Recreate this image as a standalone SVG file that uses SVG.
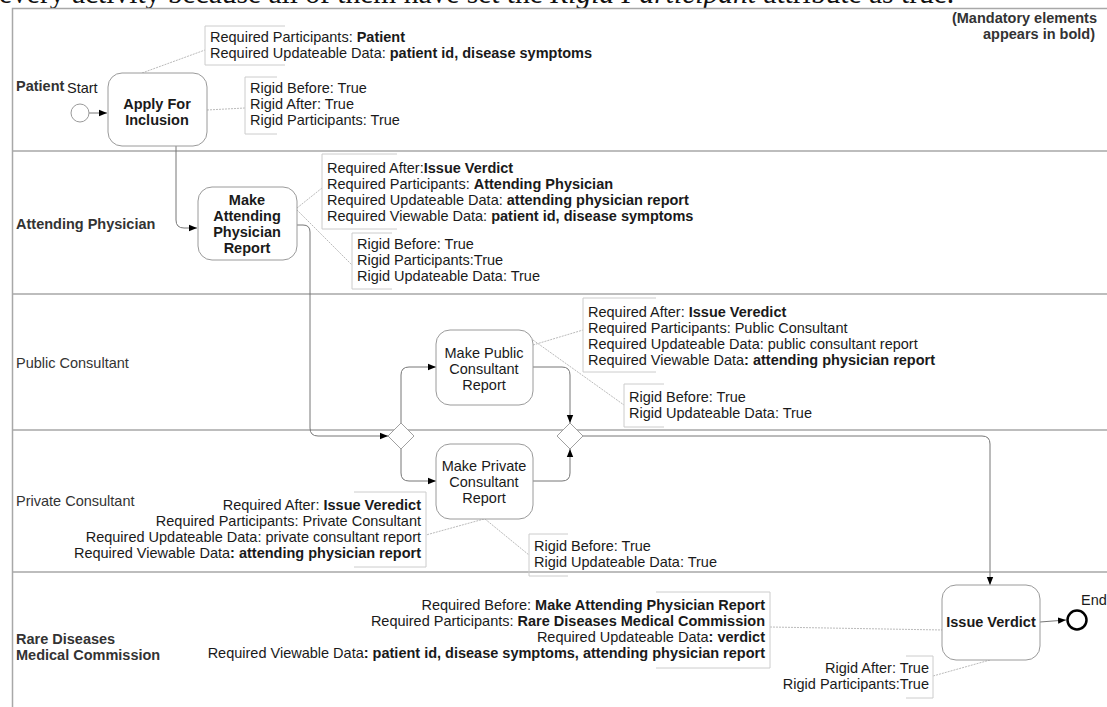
<svg xmlns="http://www.w3.org/2000/svg" width="1107" height="707" viewBox="0 0 1107 707">
<defs>
<style>
.t{font-family:"Liberation Sans",Arial,sans-serif;font-size:14.5px;fill:#1a1a1a}
.b{font-weight:bold}
.lane{font-family:"Liberation Sans",Arial,sans-serif;font-size:14.5px;fill:#333}
.title{font-family:"Liberation Serif","Times New Roman",serif;font-size:29.5px;fill:#111}
.frame{fill:none;stroke:#a8a8a8;stroke-width:1.5}
.node{fill:#fff;stroke:#9a9a9a;stroke-width:1}
.gw{fill:#fff;stroke:#a0a0a0;stroke-width:1}
.flow{fill:none;stroke:#777;stroke-width:1}
.assoc{fill:none;stroke:#bbb;stroke-width:1;stroke-dasharray:2 1}
.br{fill:none;stroke:#ccc;stroke-width:1}
.mid{text-anchor:middle}
.end{text-anchor:end}
</style>
<marker id="ah" viewBox="0 0 10 10" refX="10" refY="5" markerWidth="8" markerHeight="8" markerUnits="userSpaceOnUse" orient="auto">
<path d="M0,1 L10,5 L0,9 Z" fill="#000"/>
</marker>
</defs>
<rect x="0" y="0" width="1107" height="707" fill="#fff"/>
<text class="title" x="-1" y="3">every activity because all of them have set the <tspan font-style="italic">Rigid Participant</tspan> attribute as true.</text>
<g id="pool">
<path class="frame" d="M1107,8.5 H12.5 V707"/>
<path class="frame" d="M12.5,151 H1107 M12.5,294 H1107 M12.5,430 H1107 M12.5,572 H1107"/>
<text class="lane b" x="16" y="91">Patient</text>
<text class="lane b" x="16" y="229">Attending Physician</text>
<text class="lane" x="16" y="368">Public Consultant</text>
<text class="lane" x="16" y="506">Private Consultant</text>
<text class="lane b" x="16" y="644">Rare Diseases</text>
<text class="lane b" x="16" y="660">Medical Commission</text>
<text class="lane b end" x="1097" y="23">(Mandatory elements</text>
<text class="lane b end" x="1095" y="39">appears in bold)</text>
</g>
<g id="connectors">
<path class="flow" d="M89,113 H107" marker-end="url(#ah)"/>
<path class="flow" d="M176,146 V220 Q176,228 184,228 H197" marker-end="url(#ah)"/>
<path class="flow" d="M297,225 H303 Q310,225 310,232 V428 Q310,436 318,436 H388" marker-end="url(#ah)"/>
<path class="flow" d="M401,423 V375 Q401,367 409,367 H436" marker-end="url(#ah)"/>
<path class="flow" d="M401,449 V473 Q401,481 409,481 H436" marker-end="url(#ah)"/>
<path class="flow" d="M533,367 H562 Q570,367 570,375 V423" marker-end="url(#ah)"/>
<path class="flow" d="M533,481 H562 Q570,481 570,473 V449" marker-end="url(#ah)"/>
<path class="flow" d="M583,436 H982 Q990,436 990,444 V585" marker-end="url(#ah)"/>
<path class="flow" d="M1040,622 L1066,620" marker-end="url(#ah)"/>
<path class="assoc" d="M142,73 L205,50"/>
<path class="assoc" d="M207,110 L245,108"/>
<path class="assoc" d="M297,208 L322,188"/>
<path class="assoc" d="M297,210 L352,265"/>
<path class="assoc" d="M533,345 L583,330"/>
<path class="assoc" d="M533,340 L624,405"/>
<path class="assoc" d="M484,519 L426,535"/>
<path class="assoc" d="M485,519 L529,555"/>
<path class="assoc" d="M770,627 L943,630"/>
<path class="assoc" d="M990,660 L933,676"/>
</g>
<g id="start">
<circle class="node" cx="80" cy="113" r="9"/>
<text class="t" x="67" y="93" font-size="13.5">Start</text>
</g>
<g id="apply">
<rect class="node" x="108" y="73" width="99" height="73" rx="14"/>
<text class="t b mid" x="157" y="109">Apply For</text>
<text class="t b mid" x="157" y="125">Inclusion</text>
</g>
<g id="attending">
<rect class="node" x="198" y="187" width="99" height="73" rx="14"/>
<text class="t b mid" x="247" y="205">Make</text>
<text class="t b mid" x="247" y="221">Attending</text>
<text class="t b mid" x="247" y="237">Physician</text>
<text class="t b mid" x="247" y="253">Report</text>
</g>
<g id="gw1"><path class="gw" d="M401,423 L414,436 L401,449 L388,436 Z"/></g>
<g id="gw2"><path class="gw" d="M570,423 L583,436 L570,449 L557,436 Z"/></g>
<g id="public">
<rect class="node" x="436" y="330" width="97" height="75" rx="14"/>
<text class="t mid" x="484" y="358">Make Public</text>
<text class="t mid" x="484" y="374">Consultant</text>
<text class="t mid" x="484" y="390">Report</text>
</g>
<g id="private">
<rect class="node" x="436" y="444" width="97" height="75" rx="14"/>
<text class="t mid" x="484" y="471">Make Private</text>
<text class="t mid" x="484" y="487">Consultant</text>
<text class="t mid" x="484" y="503">Report</text>
</g>
<g id="verdict">
<rect class="node" x="942" y="585" width="98" height="75" rx="14"/>
<text class="t b mid" x="991" y="627">Issue Verdict</text>
</g>
<g id="endev">
<circle cx="1077" cy="620" r="9.5" fill="#fff" stroke="#000" stroke-width="2.5"/>
<text class="t" x="1081" y="605" font-size="13">End</text>
</g>
<g id="noteA">
<path class="br" d="M285,26 H205 V65 H285"/>
<text class="t" x="210" y="42">Required Participants: <tspan class="b">Patient</tspan></text>
<text class="t" x="210" y="58">Required Updateable Data: <tspan class="b">patient id, disease symptoms</tspan></text>
</g>
<g id="noteB">
<path class="br" d="M277,77 H245 V134 H277"/>
<text class="t" x="250" y="93">Rigid Before: True</text>
<text class="t" x="250" y="109">Rigid After: True</text>
<text class="t" x="250" y="125">Rigid Participants: True</text>
</g>
<g id="noteC">
<path class="br" d="M397,154 H322 V229 H397"/>
<text class="t" x="327" y="173">Required After:<tspan class="b">Issue Verdict</tspan></text>
<text class="t" x="327" y="189">Required Participants: <tspan class="b">Attending Physician</tspan></text>
<text class="t" x="327" y="205">Required Updateable Data: <tspan class="b">attending physician report</tspan></text>
<text class="t" x="327" y="221">Required Viewable Data: <tspan class="b">patient id, disease symptoms</tspan></text>
</g>
<g id="noteD">
<path class="br" d="M392,233 H352 V289 H392"/>
<text class="t" x="357" y="249">Rigid Before: True</text>
<text class="t" x="357" y="265">Rigid Participants:True</text>
<text class="t" x="357" y="281">Rigid Updateable Data: True</text>
</g>
<g id="noteE">
<path class="br" d="M656,298 H583 V372 H656"/>
<text class="t" x="588" y="317">Required After: <tspan class="b">Issue Veredict</tspan></text>
<text class="t" x="588" y="333">Required Participants: Public Consultant</text>
<text class="t" x="588" y="349">Required Updateable Data: public consultant report</text>
<text class="t" x="588" y="365">Required Viewable Data<tspan class="b">: attending physician report</tspan></text>
</g>
<g id="noteF">
<path class="br" d="M664,384 H624 V427 H664"/>
<text class="t" x="629" y="402">Rigid Before: True</text>
<text class="t" x="629" y="418">Rigid Updateable Data: True</text>
</g>
<g id="noteG">
<path class="br" d="M354,492 H426 V567 H354"/>
<text class="t end" x="421" y="510">Required After: <tspan class="b">Issue Veredict</tspan></text>
<text class="t end" x="421" y="526">Required Participants: Private Consultant</text>
<text class="t end" x="421" y="542">Required Updateable Data: private consultant report</text>
<text class="t end" x="421" y="558">Required Viewable Data<tspan class="b">: attending physician report</tspan></text>
</g>
<g id="noteH">
<path class="br" d="M568,534 H529 V576 H568"/>
<text class="t" x="534" y="551">Rigid Before: True</text>
<text class="t" x="534" y="567">Rigid Updateable Data: True</text>
</g>
<g id="noteI">
<path class="br" d="M656,592 H770 V668 H656"/>
<text class="t end" x="765" y="610">Required Before: <tspan class="b">Make Attending Physician Report</tspan></text>
<text class="t end" x="765" y="626">Required Participants: <tspan class="b">Rare Diseases Medical Commission</tspan></text>
<text class="t end" x="765" y="642">Required Updateable Data<tspan class="b">: verdict</tspan></text>
<text class="t end" x="765" y="658">Required Viewable Data<tspan class="b">: patient id, disease symptoms, attending physician report</tspan></text>
</g>
<g id="noteJ">
<path class="br" d="M906,656 H933 V698 H906"/>
<text class="t end" x="929" y="673">Rigid After: True</text>
<text class="t end" x="929" y="689">Rigid Participants:True</text>
</g>
</svg>
